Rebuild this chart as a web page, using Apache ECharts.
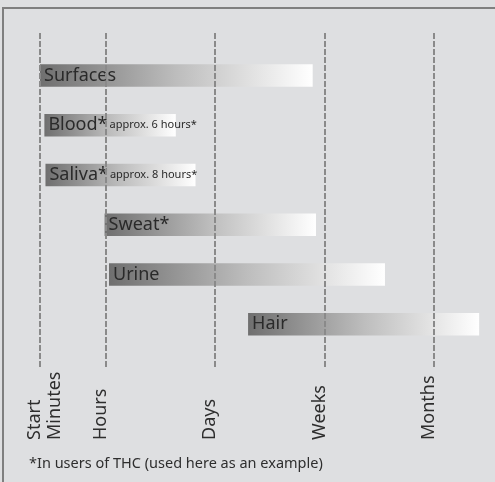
<!DOCTYPE html>
<html>
<head>
<meta charset="utf-8">
<script src="https://cdn.jsdelivr.net/npm/echarts@6/dist/echarts.min.js"></script>
<style>
html,body{margin:0;padding:0;background:#dedfe1;}
#c{width:495px;height:482px;}
</style>
</head>
<body>
<div id="c"></div>
<script>
// ---- data ----
var categories = ['Surfaces', 'Blood*', 'Saliva*', 'Sweat*', 'Urine', 'Hair'];
var notes = ['', 'approx. 6 hours*', 'approx. 8 hours*', '', '', ''];
var startValues = [0, 0.04, 0.05, 0.59, 0.63, 1.90];
var endValues = [2.49, 1.24, 1.42, 2.52, 3.15, 4.01];
var gridLineValues = [0, 0.6, 1.6, 2.6, 3.6];
var tickValues = [0, 0.18, 0.6, 1.6, 2.6, 3.6];
var tickLabels = ['Start', 'Minutes', 'Hours', 'Days', 'Weeks', 'Months'];
var footnote = '*In users of THC (used here as an example)';

var FONT = 'Noto Sans';
var lengths = endValues.map(function (e, i) { return +(e - startValues[i]).toFixed(3); });

var barGradient = new echarts.graphic.LinearGradient(0, 0, 1, 0, [
  { offset: 0, color: '#6f6f6f' },
  { offset: 0.5, color: '#bdbdbd' },
  { offset: 1, color: '#ffffff' }
]);

var chart = echarts.init(document.getElementById('c'), null, { renderer: 'canvas' });
chart.setOption({
  backgroundColor: '#dedfe1',
  animation: false,
  title: {
    text: footnote,
    left: 24,
    top: 451,
    textStyle: { fontFamily: FONT, fontSize: 14.5, fontWeight: 'normal', color: '#2e2e2e' }
  },
  graphic: [
    { type: 'line', shape: { x1: 2, y1: 8, x2: 495, y2: 8 }, style: { stroke: '#7f7f7f', lineWidth: 2 } },
    { type: 'line', shape: { x1: 3, y1: 7, x2: 3, y2: 482 }, style: { stroke: '#7f7f7f', lineWidth: 2 } }
  ],
  grid: [
    { left: 40, right: 6, top: 32, bottom: 115, outerBoundsMode: 'none' },
    { left: 40, right: 6, top: 50.5, bottom: 133, outerBoundsMode: 'none' }
  ],
  xAxis: [
    {
      gridIndex: 0, type: 'value', min: 0, max: 4.1,
      axisLine: { show: false }, axisTick: { show: false }, splitLine: { show: false },
      axisLabel: {
        customValues: tickValues,
        rotate: 90,
        align: 'left',
        verticalAlign: 'bottom',
        lineHeight: 10,
        margin: 73,
        fontFamily: FONT, fontSize: 18, color: '#2e2e2e',
        formatter: function (v) {
          var i = tickValues.indexOf(v);
          return i >= 0 ? tickLabels[i] : '';
        }
      }
    },
    {
      gridIndex: 1, type: 'value', min: 0, max: 4.1, show: false
    }
  ],
  yAxis: [
    { gridIndex: 0, type: 'value', min: 0, max: 1, show: false },
    { gridIndex: 1, type: 'category', data: categories, inverse: true, show: false }
  ],
  series: [
    {
      type: 'line', xAxisIndex: 0, yAxisIndex: 0, data: [], silent: true,
      markLine: {
        silent: true, symbol: 'none', label: { show: false },
        lineStyle: { type: [6, 2], color: '#8a8a8a', width: 2 },
        data: gridLineValues.map(function (v) { return { xAxis: v }; })
      }
    },
    {
      type: 'bar', xAxisIndex: 1, yAxisIndex: 1, stack: 'r', barWidth: 22.5,
      itemStyle: { color: 'transparent' }, silent: true,
      data: startValues
    },
    {
      type: 'bar', xAxisIndex: 1, yAxisIndex: 1, stack: 'r', barWidth: 22.5,
      itemStyle: { color: barGradient },
      data: lengths,
      label: {
        show: true,
        position: 'insideLeft',
        distance: 4,
        formatter: function (p) {
          var n = notes[p.dataIndex];
          return '{a|' + categories[p.dataIndex] + '}' + (n ? '{b|' + n + '}' : '');
        },
        rich: {
          a: { fontFamily: FONT, fontSize: 18, color: '#2a2a2a' },
          b: { fontFamily: FONT, fontSize: 11, color: '#2a2a2a', padding: [0, 0, 0, 2] }
        }
      }
    }
  ]
});
</script>
</body>
</html>
